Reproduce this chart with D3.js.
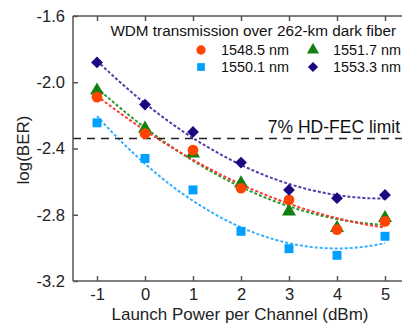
<!DOCTYPE html>
<html>
<head>
<meta charset="utf-8">
<script src="https://cdn.jsdelivr.net/npm/d3@7"></script>
<style>
  body { margin: 0; background: #fff; }
  svg { display: block; font-family: "Liberation Sans", Arial, sans-serif; }
</style>
</head>
<body>
<svg width="402" height="325"></svg>
<script>
// launch power values (dBm)
var power = [-1, 0, 1, 2, 3, 4, 5];

// log(BER) per wavelength
var ber1548 = [-2.09, -2.31, -2.41, -2.64, -2.71, -2.89, -2.84];
var ber1550 = [-2.245, -2.46, -2.65, -2.90, -3.005, -3.045, -2.93];
var ber1551 = [-2.05, -2.28, -2.43, -2.61, -2.78, -2.88, -2.82];
var ber1553 = [-1.88, -2.135, -2.30, -2.485, -2.65, -2.70, -2.68];

var xTicks = [-1, 0, 1, 2, 3, 4, 5];
var yTicks = [-3.2, -2.8, -2.4, -2.0, -1.6];
var fecLimit = -2.34;

var series = [
  { name: "1551.7 nm", vals: ber1551, color: "#118011", fit: "#2a9a2a", shape: "triangle" },
  { name: "1548.5 nm", vals: ber1548, color: "#ff4400", fit: "#ff3333", shape: "circle" },
  { name: "1550.1 nm", vals: ber1550, color: "#00a0ff", fit: "#33b0ff", shape: "square" },
  { name: "1553.3 nm", vals: ber1553, color: "#1a0a80", fit: "#4a40a8", shape: "diamond" }
];

var svg = d3.select("svg");

var x = d3.scaleLinear().domain([-1.5, 5.5]).range([73, 409]);
var y = d3.scaleLinear().domain([-3.2, -1.6]).range([281, 16]);

// quadratic least squares fit
function quadFit(xs, ys) {
  var n = xs.length, s = [0, 0, 0, 0, 0], t = [0, 0, 0];
  for (var i = 0; i < n; i++) {
    var p = 1;
    for (var k = 0; k < 5; k++) { s[k] += p; if (k < 3) t[k] += p * ys[i]; p *= xs[i]; }
  }
  var A = [[s[0], s[1], s[2], t[0]], [s[1], s[2], s[3], t[1]], [s[2], s[3], s[4], t[2]]];
  for (var c = 0; c < 3; c++) {
    for (var r = c + 1; r < 3; r++) {
      var f = A[r][c] / A[c][c];
      for (var j = c; j < 4; j++) A[r][j] -= f * A[c][j];
    }
  }
  var b = [0, 0, 0];
  for (var r2 = 2; r2 >= 0; r2--) {
    var v = A[r2][3];
    for (var j2 = r2 + 1; j2 < 3; j2++) v -= A[r2][j2] * b[j2];
    b[r2] = v / A[r2][r2];
  }
  return function(v) { return b[0] + b[1] * v + b[2] * v * v; };
}

var symbolType = { circle: d3.symbolCircle, square: d3.symbolSquare, triangle: d3.symbolTriangle, diamond: d3.symbolSquare };
var symbolSize = { circle: 90, square: 80, triangle: 85, diamond: 70 };
function shapeTransform(shape, px, py) {
  return "translate(" + px + "," + py + ")" + (shape == "diamond" ? " rotate(45)" : "");
}

// fit curves
var fine = d3.range(-1, 5.001, 0.05);
var line = d3.line().x(function(d) { return x(d[0]); }).y(function(d) { return y(d[1]); });
series.forEach(function(s) {
  var f = quadFit(power, s.vals);
  svg.append("path")
    .attr("d", line(fine.map(function(v) { return [v, f(v)]; })))
    .attr("fill", "none")
    .attr("stroke", s.fit)
    .attr("stroke-width", 2)
    .attr("stroke-dasharray", "3,2");
});

// HD-FEC limit
svg.append("line")
  .attr("x1", x(-1.5)).attr("x2", 402)
  .attr("y1", y(fecLimit)).attr("y2", y(fecLimit))
  .attr("stroke", "#222")
  .attr("stroke-width", 1.6)
  .attr("stroke-dasharray", "8,6");
svg.append("text")
  .attr("x", 400).attr("y", y(fecLimit) - 6)
  .attr("text-anchor", "end")
  .attr("font-size", 17.5)
  .attr("fill", "#111")
  .text("7% HD-FEC limit");

// markers
series.forEach(function(s) {
  svg.selectAll(null)
    .data(s.vals)
    .enter()
    .append("path")
    .attr("d", d3.symbol().type(symbolType[s.shape]).size(symbolSize[s.shape]))
    .attr("transform", function(d, i) { return shapeTransform(s.shape, x(power[i]), y(d)); })
    .attr("fill", s.color);
});

// axes frame
var frame = "#555";
svg.append("line").attr("x1", 73).attr("x2", 73).attr("y1", 16).attr("y2", 281)
  .attr("stroke", frame).attr("stroke-width", 1.5);
svg.append("line").attr("x1", 73).attr("x2", 402).attr("y1", 16).attr("y2", 16)
  .attr("stroke", frame).attr("stroke-width", 1.5);
svg.append("line").attr("x1", 73).attr("x2", 402).attr("y1", 281).attr("y2", 281)
  .attr("stroke", frame).attr("stroke-width", 1.5);

var xAxis = svg.append("g").attr("transform", "translate(0,281)")
  .call(d3.axisBottom(x).tickValues(xTicks).tickSizeInner(-5).tickSizeOuter(0).tickPadding(7)
    .tickFormat(d3.format("d")));
var xTop = svg.append("g").attr("transform", "translate(0,16)")
  .call(d3.axisTop(x).tickValues(xTicks).tickSizeInner(-5).tickSizeOuter(0).tickFormat(""));
var yAxis = svg.append("g").attr("transform", "translate(73,0)")
  .call(d3.axisLeft(y).tickValues(yTicks).tickSizeInner(-5).tickSizeOuter(0).tickPadding(8)
    .tickFormat(d3.format(".1f")));

[xAxis, xTop, yAxis].forEach(function(g) {
  g.select(".domain").remove();
  g.selectAll(".tick line").attr("stroke", frame).attr("stroke-width", 1.5);
  g.selectAll("text").attr("font-size", 16.5).attr("fill", "#222")
    .attr("font-family", "Liberation Sans, Arial, sans-serif");
});
xAxis.selectAll("text").text(function(d) { return d < 0 ? "-" + Math.abs(d) : d; });
yAxis.selectAll("text").text(function(d) { return "-" + Math.abs(d).toFixed(1); });

// axis titles
svg.append("text")
  .attr("x", 240).attr("y", 320)
  .attr("text-anchor", "middle")
  .attr("font-size", 17)
  .attr("fill", "#222")
  .text("Launch Power per Channel (dBm)");
svg.append("text")
  .attr("transform", "translate(29,150) rotate(-90)")
  .attr("text-anchor", "middle")
  .attr("font-size", 17)
  .attr("fill", "#222")
  .text("log(BER)");

// legend
svg.append("text")
  .attr("x", 396).attr("y", 36)
  .attr("text-anchor", "end")
  .attr("font-size", 15.3)
  .attr("fill", "#111")
  .text("WDM transmission over 262-km dark fiber");

var legendItems = [series[1], series[0], series[2], series[3]];
legendItems.forEach(function(s, i) {
  var lx = i % 2 == 0 ? 201 : 313;
  var ly = i < 2 ? 50 : 67;
  svg.append("path")
    .attr("d", d3.symbol().type(symbolType[s.shape]).size(symbolSize[s.shape] * 0.75)())
    .attr("transform", shapeTransform(s.shape, lx, ly))
    .attr("fill", s.color);
  svg.append("text")
    .attr("x", lx + 20).attr("y", ly + 5)
    .attr("font-size", 14.4)
    .attr("fill", "#111")
    .text(s.name);
});
</script>
</body>
</html>
